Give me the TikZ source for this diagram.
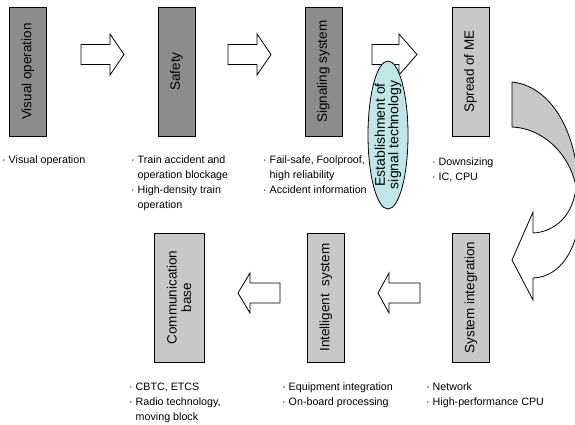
\documentclass[tikz,border=0pt]{standalone}
\usepackage{fontspec}
\setmainfont{Liberation Sans}
\usetikzlibrary{shapes.geometric}
\definecolor{boxdark}{RGB}{140,140,140}
\definecolor{boxlight}{RGB}{200,200,200}
\definecolor{ellcol}{RGB}{192,230,232}
\begin{document}
\begin{tikzpicture}[x=1pt,y=-1pt,
  stagebox/.style={draw, line width=0.8pt, rotate=90, minimum width=129pt, minimum height=37pt, inner sep=0pt, font=\fontsize{13.5}{14.5}\selectfont, align=center},
  darkbox/.style={stagebox, fill=boxdark},
  lightbox/.style={stagebox, fill=boxlight},
  blk/.style={draw, line width=0.8pt, fill=white, line join=miter},
  lst/.style={anchor=base west, inner sep=0pt, font=\fontsize{10.7}{15}\selectfont},
]
\clip (0,0) rectangle (575,424);
\fill[white] (0,0) rectangle (575,424);

% stage boxes
\node[darkbox] (vis) at (28,71.5) {Visual operation};
\node[darkbox] (saf) at (176.5,71.5) {Safety};
\node[darkbox] (sig) at (323.5,71.5) {Signaling system};
\node[lightbox] (me) at (470.5,71.5) {Spread of ME};
\node[lightbox, minimum height=50pt] (com) at (179,297.5) {Communication\\base};
\node[lightbox] (int) at (326,297.5) {Intelligent\ \ system};
\node[lightbox] (sys) at (471,297.5) {System integration};

% block arrows
\draw[blk] (81,44.5) -- (110,44.5) -- (110,34) -- (124,54.5) -- (110,75) -- (110,64.5) -- (81,64.5) -- cycle;
\draw[blk] (228,44.5) -- (257,44.5) -- (257,34) -- (271,54.5) -- (257,75) -- (257,64.5) -- (228,64.5) -- cycle;
\draw[blk] (372,44.5) -- (399,44.5) -- (399,34) -- (417,54.5) -- (399,75) -- (399,64.5) -- (372,64.5) -- cycle;
\draw[blk] (280,283) -- (250,283) -- (250,273) -- (238,293) -- (250,313) -- (250,303) -- (280,303) -- cycle;
\draw[blk] (420,283) -- (389,283) -- (389,273) -- (378,293) -- (389,313) -- (389,303) -- (420,303) -- cycle;

% ellipse
\node[ellipse, draw, line width=0.8pt, fill=ellcol, rotate=90, minimum width=148pt, minimum height=40pt, inner sep=0pt] (est) at (388,135) {};
\node[rotate=90, align=center, inner sep=0pt, font=\fontsize{14}{13.5}\selectfont] (estl) at (est.center) {Establishment of\\signal technology};

% curved arrow: back part
\draw[line width=0.8pt, fill=boxlight, line join=miter]
  (512,82) -- (512,127) .. controls (540,128) and (568,150) .. (576,186)
  -- (579,195) .. controls (578,130) and (550,86) .. (512,82) -- cycle;
% curved arrow: front part
\draw[line width=0.8pt, fill=white, line join=miter]
  (576,186) .. controls (574,215) and (555,232) .. (533,233)
  -- (533,212) -- (512,260) -- (533,300) -- (533,278)
  .. controls (560,277) and (580,250) .. (581,200) -- cycle;

% lists
\node[lst] (visl) at (2,163) {\begin{tabular}[t]{@{}l@{\ }l@{}}·&Visual operation\end{tabular}};
\node[lst] (safl) at (131,163) {\begin{tabular}[t]{@{}l@{\ }l@{}}·&Train accident and\\&operation blockage\\·&High-density train\\&operation\end{tabular}};
\node[lst] (sigl) at (263,163) {\begin{tabular}[t]{@{}l@{\ }l@{}}·&Fail-safe, Foolproof,\\&high reliability\\·&Accident information\end{tabular}};
\node[lst] (mel) at (432,165) {\begin{tabular}[t]{@{}l@{\ }l@{}}·&Downsizing\\·&IC, CPU\end{tabular}};
\node[lst] (coml) at (129,390) {\begin{tabular}[t]{@{}l@{\ }l@{}}·&CBTC, ETCS\\·&Radio technology,\\&moving block\end{tabular}};
\node[lst] (intl) at (282,390) {\begin{tabular}[t]{@{}l@{\ }l@{}}·&Equipment integration\\·&On-board processing\end{tabular}};
\node[lst] (sysl) at (426,390) {\begin{tabular}[t]{@{}l@{\ }l@{}}·&Network\\·&High-performance CPU\end{tabular}};
\end{tikzpicture}
\end{document}
